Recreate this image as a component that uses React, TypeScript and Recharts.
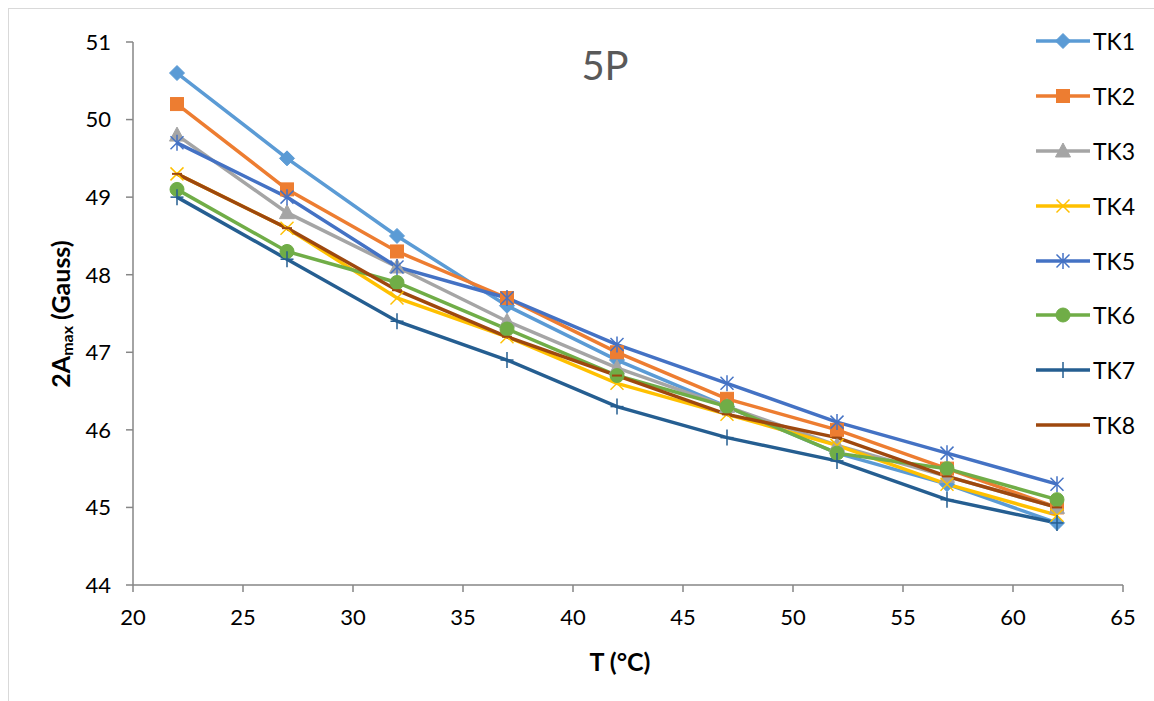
import React from 'react';
import { LineChart, Line, XAxis, YAxis, Legend, Label } from 'recharts';

const temps = [22, 27, 32, 37, 42, 47, 52, 57, 62];
const tk1 = [50.6, 49.5, 48.5, 47.6, 46.9, 46.3, 45.7, 45.3, 44.8];
const tk2 = [50.2, 49.1, 48.3, 47.7, 47.0, 46.4, 46.0, 45.5, 45.0];
const tk3 = [49.8, 48.8, 48.1, 47.4, 46.8, 46.3, 45.8, 45.4, 45.0];
const tk4 = [49.3, 48.6, 47.7, 47.2, 46.6, 46.2, 45.8, 45.3, 44.9];
const tk5 = [49.7, 49.0, 48.1, 47.7, 47.1, 46.6, 46.1, 45.7, 45.3];
const tk6 = [49.1, 48.3, 47.9, 47.3, 46.7, 46.3, 45.7, 45.5, 45.1];
const tk7 = [49.0, 48.2, 47.4, 46.9, 46.3, 45.9, 45.6, 45.1, 44.8];
const tk8 = [49.3, 48.6, 47.8, 47.2, 46.7, 46.2, 45.9, 45.4, 45.0];

const xTicks = [20, 25, 30, 35, 40, 45, 50, 55, 60, 65];
const yTicks = [44, 45, 46, 47, 48, 49, 50, 51];

const seriesNames = ['TK1', 'TK2', 'TK3', 'TK4', 'TK5', 'TK6', 'TK7', 'TK8'];
const seriesValues = [tk1, tk2, tk3, tk4, tk5, tk6, tk7, tk8];
const seriesColors = ['#5B9BD5', '#ED7D31', '#A5A5A5', '#FFC000', '#4472C4', '#70AD47', '#255E91', '#9E480E'];
const seriesShapes = ['diamond', 'square', 'triangle', 'x', 'star', 'circle', 'plus', 'dash'];

const data = temps.map((t, i) => {
  const row: any = { t };
  seriesNames.forEach((n, s) => { row[n] = seriesValues[s][i]; });
  return row;
});

const FONT = 'Lato, "Open Sans", sans-serif';

function Marker({ shape, color, cx, cy }: { shape: string; color: string; cx: number; cy: number }) {
  const r = 6.5;
  switch (shape) {
    case 'diamond':
      return <polygon points={`${cx},${cy - 7.5} ${cx + 7.5},${cy} ${cx},${cy + 7.5} ${cx - 7.5},${cy}`} fill={color} stroke={color} strokeWidth={1} />;
    case 'square':
      return <rect x={cx - r} y={cy - r} width={2 * r} height={2 * r} fill={color} stroke={color} strokeWidth={1} />;
    case 'triangle':
      return <polygon points={`${cx},${cy - 8} ${cx + 7.5},${cy + 6} ${cx - 7.5},${cy + 6}`} fill={color} stroke={color} strokeWidth={1} />;
    case 'x':
      return (
        <g stroke={color} strokeWidth={1.5}>
          <line x1={cx - r} y1={cy - r} x2={cx + r} y2={cy + r} />
          <line x1={cx - r} y1={cy + r} x2={cx + r} y2={cy - r} />
        </g>
      );
    case 'star':
      return (
        <g stroke={color} strokeWidth={1.5}>
          <line x1={cx - r} y1={cy - r} x2={cx + r} y2={cy + r} />
          <line x1={cx - r} y1={cy + r} x2={cx + r} y2={cy - r} />
          <line x1={cx} y1={cy - 8} x2={cx} y2={cy + 8} />
        </g>
      );
    case 'circle':
      return <circle cx={cx} cy={cy} r={7} fill={color} stroke={color} strokeWidth={1} />;
    case 'plus':
      return (
        <g stroke={color} strokeWidth={1.5}>
          <line x1={cx - r} y1={cy} x2={cx + r} y2={cy} />
          <line x1={cx} y1={cy - 8} x2={cx} y2={cy + 8} />
        </g>
      );
    case 'dash':
      return <line x1={cx - 5} y1={cy} x2={cx + 5} y2={cy} stroke={color} strokeWidth={2} />;
    default:
      return null;
  }
}

const makeDot = (shape: string, color: string) => (props: any) => {
  const { cx, cy, index } = props;
  return (
    <g key={`dot-${shape}-${index}`}>
      <Marker shape={shape} color={color} cx={cx} cy={cy} />
    </g>
  );
};

const LegendContent = () => (
  <div style={{ fontFamily: FONT }}>
    {seriesNames.map((n, i) => (
      <div key={n} style={{ height: 54.8, display: 'flex', alignItems: 'center', position: 'relative' }}>
        <svg width={60} height={20} style={{ display: 'block' }}>
          <line x1={3} y1={10} x2={57} y2={10} stroke={seriesColors[i]} strokeWidth={3.5} />
          <Marker shape={seriesShapes[i]} color={seriesColors[i]} cx={30} cy={10} />
        </svg>
        <span style={{ fontSize: 23, color: '#000', marginLeft: 0 }}>{n}</span>
      </div>
    ))}
  </div>
);

const YLabel = () => {
  const cx = 60;
  const cy = 314;
  return (
    <text
      x={cx}
      y={cy}
      transform={`rotate(-90 ${cx} ${cy})`}
      textAnchor="middle"
      dominantBaseline="central"
      fontFamily={FONT}
      fontWeight="bold"
      fontSize={25}
      fill="#000"
    >
      2A<tspan fontSize={16} dy={6}>max</tspan>
      <tspan dy={-6}> (Gauss)</tspan>
    </text>
  );
};

const XLabel = () => (
  <text x={620} y={661} textAnchor="middle" dominantBaseline="central" fontFamily={FONT} fontWeight="bold" fontSize={25} fill="#000">
    T (°C)
  </text>
);

export default function App() {
  return (
    <div style={{ position: 'absolute', left: 0, top: 0, width: 1154, height: 701, background: '#fff', overflow: 'hidden' }}>
      <div style={{ position: 'absolute', left: 8, top: 8, width: 1160, height: 710, border: '1px solid #D9D9D9', boxSizing: 'border-box' }} />
      <div style={{ position: 'absolute', left: 0, top: 38, width: 1210, textAlign: 'center', fontFamily: FONT, fontSize: 40, color: '#595959', lineHeight: '54px' }}>
        5P
      </div>
      <LineChart
        width={1154}
        height={701}
        data={data}
        margin={{ top: 42, right: 31, bottom: 76, left: 73 }}
        style={{ position: 'absolute', left: 0, top: 0 }}
      >
        <XAxis
          dataKey="t"
          type="number"
          domain={[20, 65]}
          ticks={xTicks}
          interval={0}
          height={40}
          axisLine={{ stroke: '#868686', strokeWidth: 1.5 }}
          tickLine={{ stroke: '#868686', strokeWidth: 1.5 }}
          tickSize={7}
          tickMargin={17}
          tick={{ fill: '#000', fontSize: 22, fontFamily: FONT }}
        >
          <Label content={<XLabel />} />
        </XAxis>
        <YAxis
          type="number"
          domain={[44, 51]}
          ticks={yTicks}
          interval={0}
          width={60}
          axisLine={{ stroke: '#868686', strokeWidth: 1.5 }}
          tickLine={{ stroke: '#868686', strokeWidth: 1.5 }}
          tickSize={7}
          tickMargin={15}
          tick={{ fill: '#000', fontSize: 22, fontFamily: FONT }}
        >
          <Label content={<YLabel />} />
        </YAxis>
        <Legend
          layout="vertical"
          align="center"
          verticalAlign="middle"
          content={<LegendContent />}
          wrapperStyle={{ left: 1033, top: 14, width: 120 }}
        />
        {seriesNames.map((n, i) => (
          <Line
            key={n}
            dataKey={n}
            name={n}
            type="linear"
            stroke={seriesColors[i]}
            strokeWidth={3.5}
            dot={makeDot(seriesShapes[i], seriesColors[i])}
            activeDot={false}
            isAnimationActive={false}
          />
        ))}
      </LineChart>
    </div>
  );
}
